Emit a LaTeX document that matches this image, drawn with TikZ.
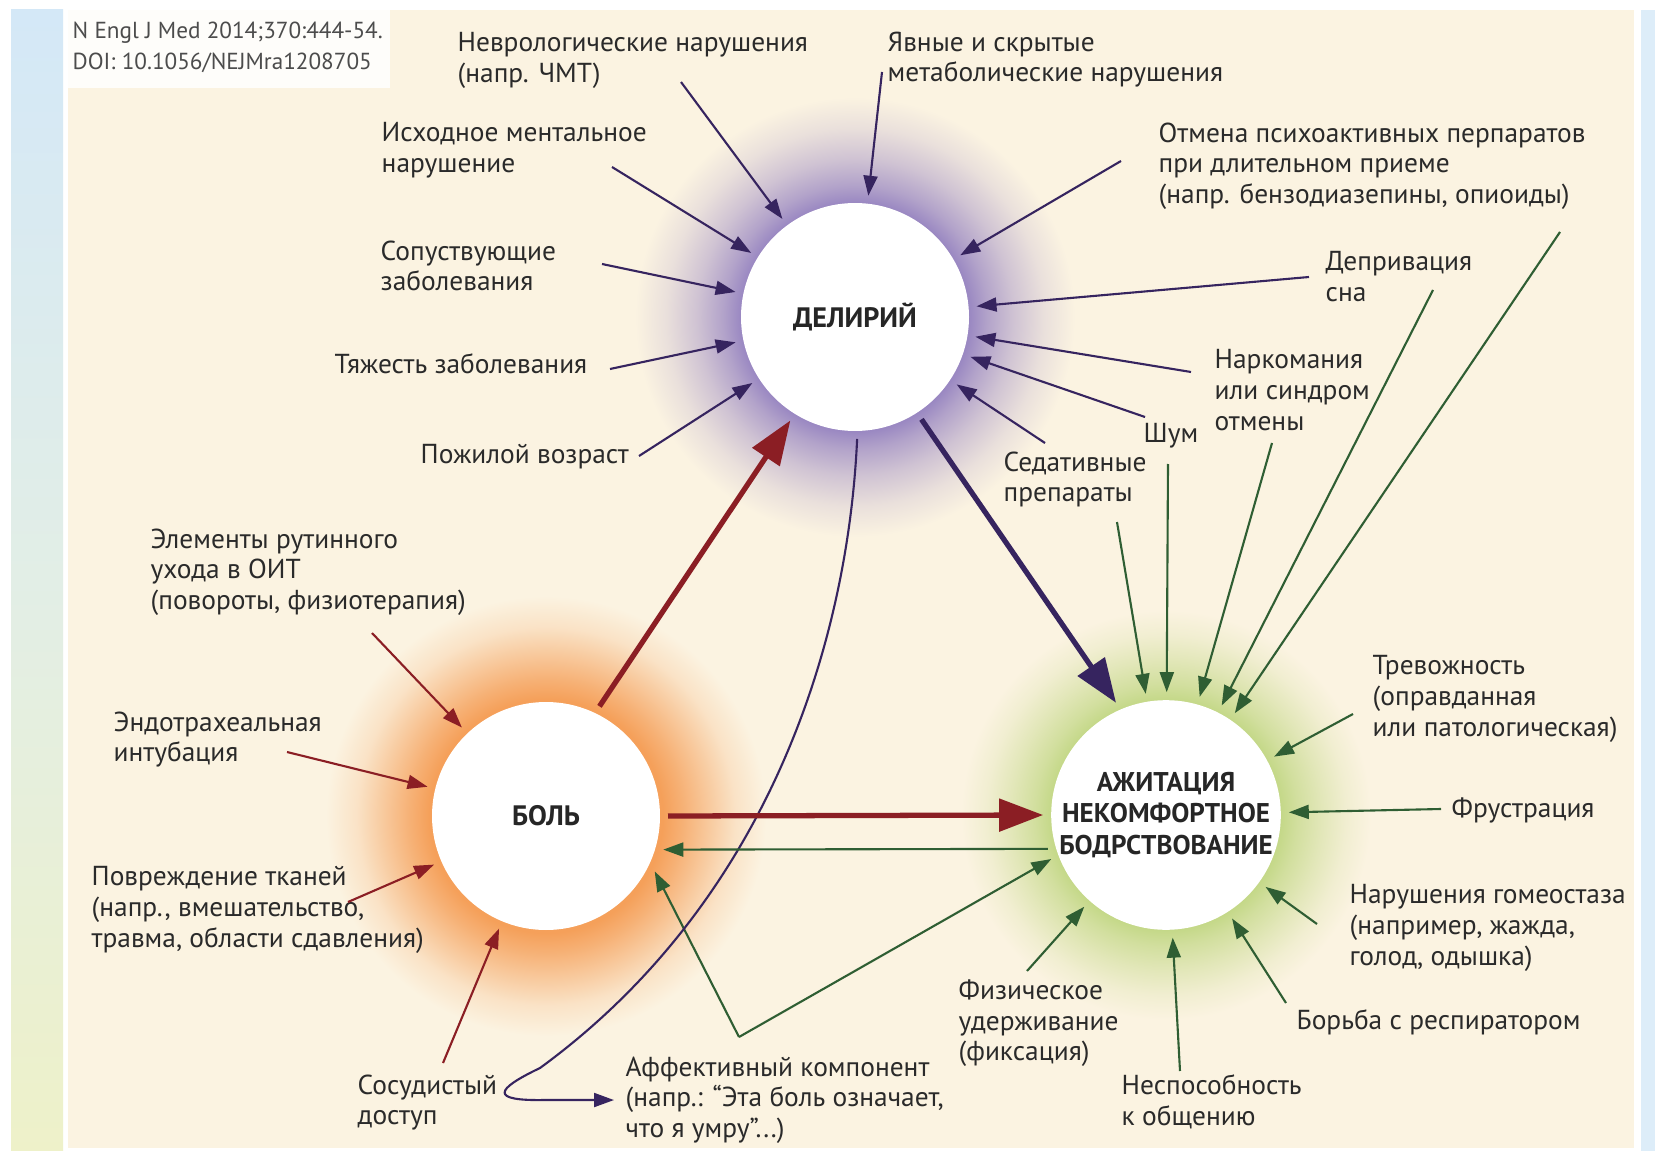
\documentclass[tikz,border=0pt]{standalone}
\usepackage{fontspec}
\setmainfont{PT Sans}
\usetikzlibrary{arrows.meta}

\begin{document}
\begin{tikzpicture}[x=0.1mm, y=-0.1mm,
    lbl/.style={anchor=north west, align=left, inner sep=0pt, text=txtColour,
        font=\fontsize{7.8}{8.7}\selectfont},
    hub/.style={circle, fill=white, minimum size=22.8mm, inner sep=0pt, outer sep=0.8mm,
        align=center, text=black!85, font=\bfseries\fontsize{7.7}{9}\selectfont},
    delArrow/.style={draw=delPurple, line width=0.6pt, -{Triangle[length=2mm, width=1.4mm]}},
    bolArrow/.style={draw=bolRed, line width=0.6pt, -{Triangle[length=2mm, width=1.4mm]}},
    agitArrow/.style={draw=agitGreen, line width=0.6pt, -{Triangle[length=2mm, width=1.4mm]}},
    bigArrow/.style={line width=1.5pt, -{Triangle[length=4.4mm, width=3.2mm]}}]

    \definecolor{panelCream}{HTML}{FBF3E1}
    \definecolor{txtColour}{HTML}{2A2A2A}
    \definecolor{delPurple}{HTML}{36245F}
    \definecolor{bolRed}{HTML}{8B1E24}
    \definecolor{agitGreen}{HTML}{2F5E33}
    \definecolor{glowPurple}{HTML}{9A88C2}
    \definecolor{glowOrange}{HTML}{F5A05A}
    \definecolor{glowGreen}{HTML}{C4D888}
    \definecolor{stripBlue}{HTML}{D4E8F7}
    \definecolor{stripMid}{HTML}{E2EEE6}
    \definecolor{stripGreen}{HTML}{EEF1C9}
    \colorlet{gpA}{glowPurple!75!panelCream}
    \colorlet{gpB}{glowPurple!45!panelCream}
    \colorlet{gpC}{glowPurple!18!panelCream}
    \colorlet{goA}{glowOrange!80!panelCream}
    \colorlet{goB}{glowOrange!50!panelCream}
    \colorlet{goC}{glowOrange!20!panelCream}
    \colorlet{ggA}{glowGreen!75!panelCream}
    \colorlet{ggB}{glowGreen!45!panelCream}
    \colorlet{ggC}{glowGreen!18!panelCream}

    % Glow shadings round the three circles (25bp = edge of the path)
    \pgfdeclareradialshading{delGlow}{\pgfpoint{0bp}{0bp}}{color(0bp)=(glowPurple); color(13bp)=(glowPurple); color(15bp)=(gpA); color(18bp)=(gpB); color(21.5bp)=(gpC); color(25bp)=(panelCream); color(50bp)=(panelCream)}
    \pgfdeclareradialshading{bolGlow}{\pgfpoint{0bp}{0bp}}{color(0bp)=(glowOrange); color(13.3bp)=(glowOrange); color(15.5bp)=(goA); color(18.5bp)=(goB); color(21.5bp)=(goC); color(25bp)=(panelCream); color(50bp)=(panelCream)}
    \pgfdeclareradialshading{agitGlow}{\pgfpoint{0bp}{0bp}}{color(0bp)=(glowGreen); color(14bp)=(glowGreen); color(16bp)=(ggA); color(19bp)=(ggB); color(22bp)=(ggC); color(25bp)=(panelCream); color(50bp)=(panelCream)}

    % Draw frame and panel
    \useasboundingbox (0,0) rectangle (1655,1151);
    \fill[white] (0,0) rectangle (1655,1151);
    \shade[top color=stripBlue, bottom color=stripGreen, middle color=stripMid] (11,10) rectangle (63,1151);
    \fill[panelCream] (68,10) rectangle (1634,1148);
    \fill[stripBlue!80!white] (1641,10) rectangle (1655,1151);
    \fill[white!85!panelCream] (68,10) rectangle (390,88);

    % Draw glows
    \shade[shading=delGlow] (855,317) circle (22mm);
    \shade[shading=bolGlow] (546,816) circle (22mm);
    \shade[shading=agitGlow] (1166,815) circle (20.5mm);

    % Draw the three circles
    \node[hub, font=\bfseries\fontsize{8}{9}\selectfont] (delir) at (855,317) {ДЕЛИРИЙ};
    \node[hub, font=\bfseries\fontsize{8}{9}\selectfont] (bol) at (546,816) {БОЛЬ};
    \node[hub] (agit) at (1166,815) {АЖИТАЦИЯ\\НЕКОМФОРТНОЕ\\БОДРСТВОВАНИЕ};

    % Source
    \node[lbl, text=black!70, font=\fontsize{6.6}{8.8}\selectfont] (cite) at (72,21) {N Engl J Med 2014;370:444-54.\\DOI: 10.1056/NEJMra1208705};

    % Labels round delirium
    \node[lbl] (tNevro) at (457,32) {Неврологические нарушения\\(напр. ЧМТ)};
    \node[lbl] (tMetab) at (887,31) {Явные и скрытые\\метаболические нарушения};
    \node[lbl] (tIskh) at (381,122) {Исходное ментальное\\нарушение};
    \node[lbl] (tSopu) at (380,240) {Сопуствующие\\заболевания};
    \node[lbl] (tTyazh) at (334,353) {Тяжесть заболевания};
    \node[lbl] (tPozh) at (420,444) {Пожилой возраст};
    \node[lbl] (tOtmena) at (1158,122) {Отмена психоактивных перпаратов\\при длительном приеме\\(напр. бензодиазепины, опиоиды)};
    \node[lbl] (tDepr) at (1325,251) {Депривация\\сна};
    \node[lbl] (tNark) at (1214,349) {Наркомания\\или синдром\\отмены};
    \node[lbl] (tShum) at (1143,423) {Шум};
    \node[lbl] (tSed) at (1003,451) {Седативные\\препараты};

    % Labels round pain
    \node[lbl] (tElem) at (150,528) {Элементы рутинного\\ухода в ОИТ\\(повороты, физиотерапия)};
    \node[lbl] (tEndo) at (113,711) {Эндотрахеальная\\интубация};
    \node[lbl] (tPovr) at (91,866) {Повреждение тканей\\(напр., вмешательство,\\травма, области сдавления)};
    \node[lbl] (tSosud) at (357,1074) {Сосудистый\\доступ};
    \node[lbl] (tAff) at (625,1056) {Аффективный компонент\\(напр.: “Эта боль означает,\\что я умру”...)};

    % Labels round agitation
    \node[lbl] (tFiz) at (958,979) {Физическое\\удерживание\\(фиксация)};
    \node[lbl] (tNesp) at (1121,1074) {Неспособность\\к общению};
    \node[lbl] (tBorba) at (1296,1009) {Борьба с респиратором};
    \node[lbl] (tGomeo) at (1349,884) {Нарушения гомеостаза\\(например, жажда,\\голод, одышка)};
    \node[lbl] (tFrus) at (1451,797) {Фрустрация};
    \node[lbl] (tTrev) at (1372,655) {Тревожность\\(оправданная\\или патологическая)};

    % Arrow start points
    \coordinate (pNevro) at (681,82);
    \coordinate (pMetab) at (882,72);
    \coordinate (pIskh) at (612,167);
    \coordinate (pSopu) at (602,264);
    \coordinate (pTyazh) at (610,369);
    \coordinate (pPozh) at (639,456);
    \coordinate (pOtmena) at (1121,161);
    \coordinate (pDepr) at (1309,277);
    \coordinate (pNark) at (1191,372);
    \coordinate (pShum) at (1145,417);
    \coordinate (pSed) at (1045,443);

    \coordinate (qElem) at (372,633);
    \coordinate (qEndo) at (287,752);
    \coordinate (qPovr) at (348,902);
    \coordinate (qSosud) at (443,1063);

    \coordinate (rSed) at (1117,522);
    \coordinate (rShum) at (1168,464);
    \coordinate (rNark) at (1272,443);
    \coordinate (rDepr) at (1433,290);
    \coordinate (rOtmena) at (1560,232);
    \coordinate (rTrev) at (1353,714);
    \coordinate (rFrus) at (1441,809);
    \coordinate (rGomeo) at (1317,924);
    \coordinate (rBorba) at (1286,1003);
    \coordinate (rNesp) at (1180,1071);
    \coordinate (rFiz) at (1027,971);
    \coordinate (rAff) at (739,1037);

    % Draw thin arrows
    \foreach \p in {pNevro,pMetab,pIskh,pSopu,pTyazh,pPozh,pOtmena,pDepr,pNark,pShum,pSed}
        \draw[delArrow] (\p) -- (delir);
    \foreach \p in {qElem,qEndo,qPovr,qSosud}
        \draw[bolArrow] (\p) -- (bol);
    \foreach \p in {rSed,rShum,rNark,rDepr,rOtmena,rTrev,rFrus,rGomeo,rBorba,rNesp,rFiz}
        \draw[agitArrow] (\p) -- (agit);

    % Affective component
    \draw[agitArrow] (rAff) -- (bol.-27);
    \draw[agitArrow] (rAff) -- (agit.201);
    \draw[delArrow, shorten >=1.1mm] (delir.-89) .. controls (848,640) and (770,900) .. (540,1068)
        .. controls (494,1090) and (490,1101) .. (545,1100) -- (tAff.west);

    % Draw thick arrows
    \draw[bigArrow, bolRed] (bol.64) -- (delir.238);
    \draw[bigArrow, delPurple] (delir.-57) -- (agit.114);
    \draw[bigArrow, bolRed] (bol.east) -- (agit.west);
    \draw[agitArrow] (agit.196) -- (bol.-16);

\end{tikzpicture}
\end{document}
